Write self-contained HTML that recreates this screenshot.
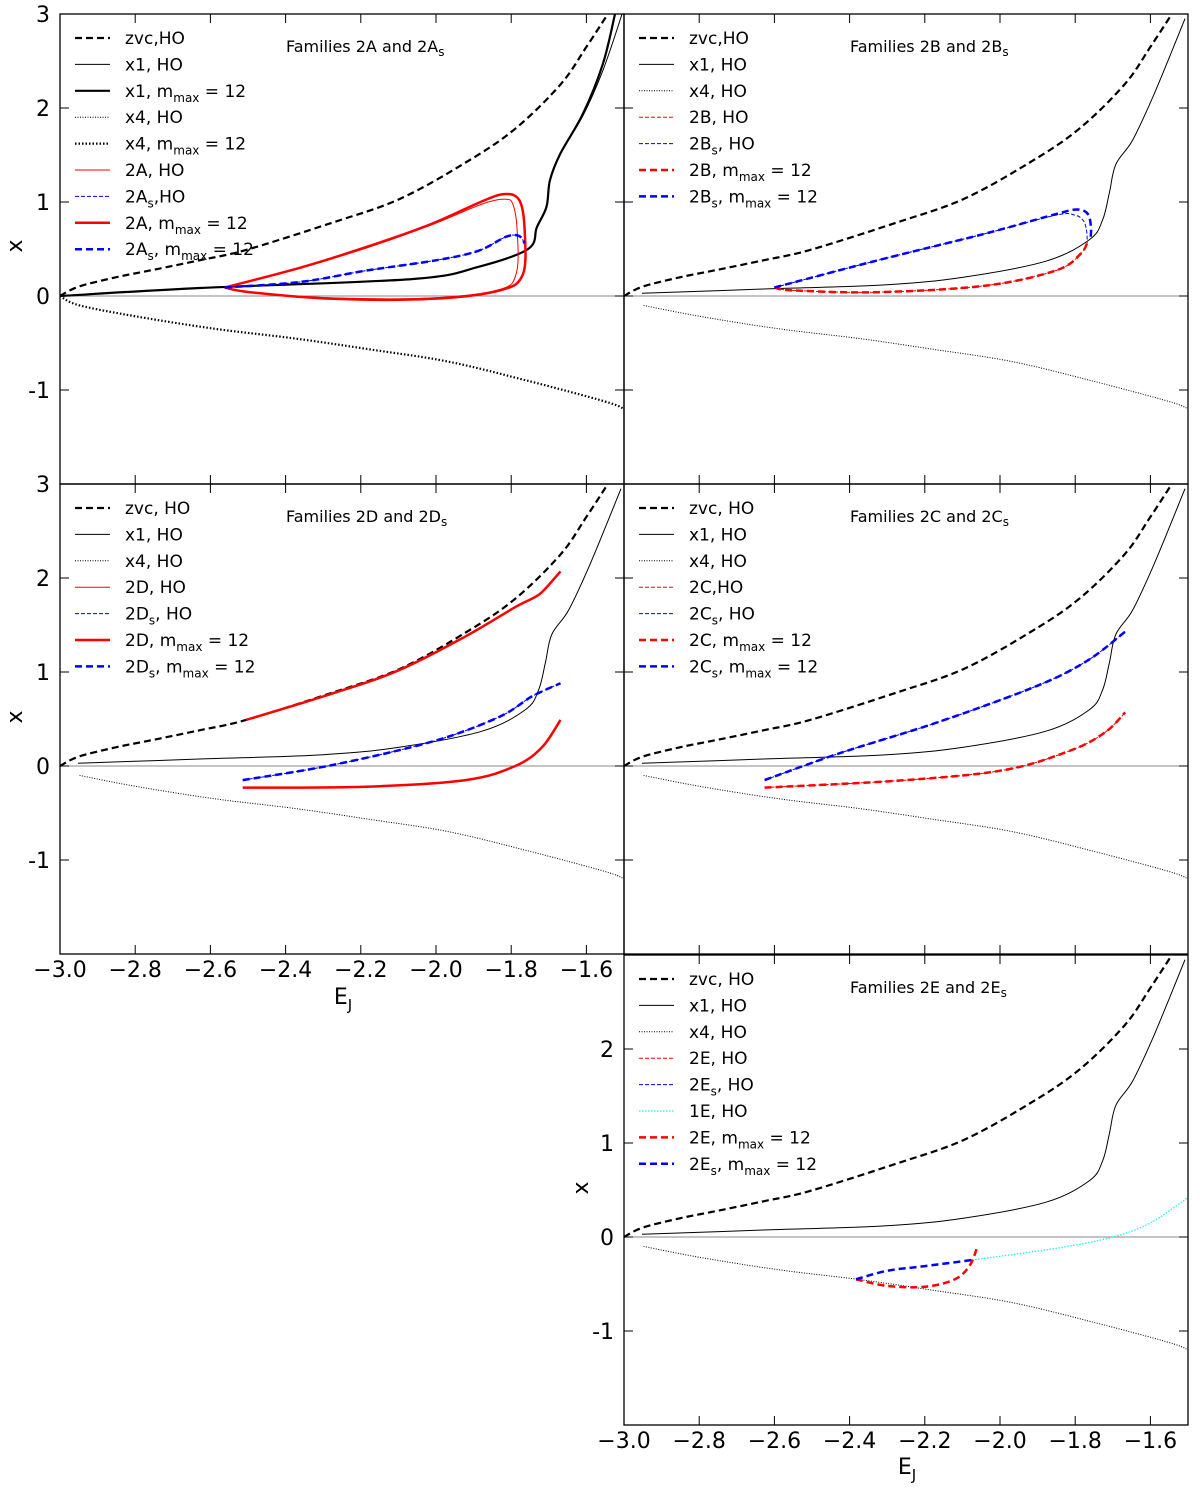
<!DOCTYPE html>
<html><head><meta charset="utf-8"><style>
html,body{margin:0;padding:0;background:#fff}
svg{display:block;font-family:"DejaVu Sans","Liberation Sans",sans-serif}
</style></head><body>
<svg id="fig" width="1200" height="1492" viewBox="0 0 1200 1492" xmlns="http://www.w3.org/2000/svg"></svg>
<script>
// ---- shared data ----
const zvcE=[-3,-2.95,-2.85,-2.75,-2.629,-2.505,-2.276,-2.098,-1.921,-1.789,-1.669,-1.6,-1.535];
const zvcX=[0,0.1,0.2,0.28,0.38,0.49,0.78,1.03,1.42,1.78,2.25,2.65,3.05];
const x4E=[-3,-2.948,-2.793,-2.586,-2.379,-2.172,-1.965,-1.758,-1.552,-1.5];
const x4X=[0,-0.1,-0.22,-0.35,-0.45,-0.57,-0.7,-0.9,-1.12,-1.2];
const x1E=[-2.952,-2.629,-2.3,-2.098,-1.878,-1.762,-1.727,-1.709,-1.692,-1.647,-1.59,-1.508];
const x1X=[0.03,0.074,0.12,0.2,0.37,0.6,0.81,1.1,1.4,1.66,2.15,2.95];
const x1mE=[-3,-2.628,-2.065,-1.888,-1.755,-1.732,-1.706,-1.697,-1.67,-1.609,-1.556,-1.524];
const x1mX=[0,0.085,0.18,0.31,0.5,0.73,0.95,1.23,1.51,1.94,2.47,3.0];
const x1aE=[-3,-2.628,-2.065,-1.888,-1.755,-1.732,-1.706,-1.697,-1.67,-1.609,-1.556,-1.505];
const x1aX=[0,0.085,0.18,0.31,0.5,0.73,0.95,1.23,1.51,1.92,2.4,3.0];
// panel A
const a2AE=[-2.562,-2.362,-2.186,-2.01,-1.876,-1.814,-1.777,-1.764,-1.769,-1.83,-2.01,-2.274,-2.495,-2.562];
const a2AX=[0.09,0.3,0.52,0.77,1.01,1.085,1.01,0.69,0.23,0.06,-0.03,-0.03,0.04,0.09];
const a2AhE=[-2.562,-2.362,-2.186,-2.01,-1.876,-1.815,-1.795,-1.784,-1.786,-1.83,-2.01,-2.274,-2.495,-2.562];
const a2AhX=[0.09,0.3,0.51,0.76,0.98,1.03,0.97,0.69,0.25,0.07,-0.02,-0.02,0.04,0.09];
const a2AsE=[-2.562,-2.36,-2.186,-2.0,-1.888,-1.814,-1.78,-1.764];
const a2AsX=[0.09,0.15,0.27,0.38,0.48,0.63,0.64,0.56];
// panel B
const b2BE=[-2.6,-2.55,-2.33,-2.04,-1.852,-1.785,-1.766];
const b2BX=[0.09,0.06,0.04,0.11,0.27,0.45,0.59];
const b2BsE=[-2.6,-2.33,-2.043,-1.852,-1.795,-1.766,-1.758,-1.76];
const b2BsX=[0.09,0.375,0.66,0.87,0.92,0.87,0.72,0.59];
const b2BsHE=[-2.6,-2.33,-2.043,-1.852,-1.8,-1.778,-1.77,-1.768];
const b2BsHX=[0.09,0.375,0.66,0.86,0.86,0.8,0.7,0.6];
// panel D
const d2DuE=[-2.505,-2.276,-2.098,-1.921,-1.789,-1.745,-1.718,-1.669];
const d2DuX=[0.49,0.77,1.02,1.38,1.69,1.78,1.85,2.07];
const d2DlE=[-2.514,-2.187,-1.921,-1.789,-1.718,-1.669];
const d2DlX=[-0.23,-0.22,-0.15,0.0,0.2,0.49];
const d2DsE=[-2.514,-2.276,-2.01,-1.833,-1.745,-1.669];
const d2DsX=[-0.15,0.01,0.26,0.52,0.74,0.88];
// panel C
const c2CsE=[-2.626,-2.427,-2.162,-1.897,-1.764,-1.667];
const c2CsX=[-0.15,0.135,0.47,0.86,1.13,1.43];
const c2CE=[-2.626,-2.25,-1.985,-1.809,-1.72,-1.667];
const c2CX=[-0.23,-0.15,-0.04,0.17,0.36,0.57];
// panel E
const e1EE=[-2.066,-1.85,-1.7,-1.6,-1.5];
const e1EX=[-0.24,-0.12,0.0,0.15,0.42];
const e2EsE=[-2.383,-2.3,-2.2,-2.066];
const e2EsX=[-0.45,-0.36,-0.31,-0.24];
const e2EE=[-2.383,-2.3,-2.2,-2.12,-2.08,-2.06];
const e2EX=[-0.45,-0.52,-0.53,-0.45,-0.3,-0.1];
const xTicks=[-3.0,-2.8,-2.6,-2.4,-2.2,-2.0,-1.8,-1.6];
const xTickLabels=["\u22123.0","\u22122.8","\u22122.6","\u22122.4","\u22122.2","\u22122.0","\u22121.8","\u22121.6"];
const yTicks=[3,2,1,0,-1];

const NS="http://www.w3.org/2000/svg";
const svg=document.getElementById('fig');
const W=564,H=470,EMIN=-3,EMAX=-1.5,YMAX=3,YMIN=-2;
function el(t,a,p){const e=document.createElementNS(NS,t);for(const k in a)e.setAttribute(k,a[k]);(p||svg).appendChild(e);return e;}
const ST={
 zvc:{stroke:'#000','stroke-width':2.2,'stroke-dasharray':'7,4'},
 x1:{stroke:'#000','stroke-width':1},
 x1m:{stroke:'#000','stroke-width':2.2},
 x4:{stroke:'#000','stroke-width':1,'stroke-dasharray':'1,1.5'},
 x4m:{stroke:'#000','stroke-width':2.2,'stroke-dasharray':'1.5,2'},
 rH:{stroke:'#f00','stroke-width':1},
 rHd:{stroke:'#f00','stroke-width':1,'stroke-dasharray':'4,2'},
 bHd:{stroke:'#00f','stroke-width':1,'stroke-dasharray':'4,2'},
 rM:{stroke:'#f00','stroke-width':2.5},
 rMd:{stroke:'#f00','stroke-width':2.5,'stroke-dasharray':'7,4'},
 bMd:{stroke:'#00f','stroke-width':2.5,'stroke-dasharray':'7,4'},
 cy:{stroke:'#2ee','stroke-width':1.3,'stroke-dasharray':'1.5,1.5'}
};
function smooth(P){
 let d='M'+P[0][0].toFixed(1)+','+P[0][1].toFixed(1);
 for(let i=0;i<P.length-1;i++){
  const p0=P[Math.max(0,i-1)],p1=P[i],p2=P[i+1],p3=P[Math.min(P.length-1,i+2)];
  const c1=[p1[0]+(p2[0]-p0[0])/6,p1[1]+(p2[1]-p0[1])/6];
  const c2=[p2[0]-(p3[0]-p1[0])/6,p2[1]-(p3[1]-p1[1])/6];
  d+=' C'+c1.map(v=>v.toFixed(1)).join(',')+' '+c2.map(v=>v.toFixed(1)).join(',')+' '+p2.map(v=>v.toFixed(1)).join(',');
 }
 return d;
}
function addLabel(t,segs){
 let sub=false;
 segs.forEach(seg=>{
  const isSub=!!seg[1];
  const a={};
  if(isSub&&!sub)a.dy=5;
  if(!isSub&&sub)a.dy=-5;
  if(isSub)a['font-size']=12;
  const s=el('tspan',a,t);s.textContent=seg[0];
  sub=isSub;
 });
}
function panel(ox,oy,name,title,titleSub,legend,curves){
 const g=el('g',{},svg);
 
 
 const sx=v=>ox+(v-EMIN)/(EMAX-EMIN)*W;
 const sy=v=>oy+(YMAX-v)/(YMAX-YMIN)*H;
 const cp=el('clipPath',{id:'cp'+name},g);
 el('rect',{x:ox,y:oy,width:W,height:H},cp);
 const z=el('line',{x1:ox,x2:ox+W,y1:sy(0),y2:sy(0),stroke:'#888','stroke-width':1},g);
 
 
 const cg=el('g',{'clip-path':'url(#cp'+name+')'},g);
 curves.forEach(c=>{
  const P=c[1].map((e,i)=>[sx(e),sy(c[2][i])]);
  const p=el('path',Object.assign({d:smooth(P),fill:'none','stroke-linejoin':'round'},ST[c[3]]),cg);
  
  
 });
 xTicks.forEach(t=>{const x=sx(t);el('line',{x1:x,x2:x,y1:oy+H,y2:oy+H-9,stroke:'#000','stroke-width':1},g);el('line',{x1:x,x2:x,y1:oy,y2:oy+9,stroke:'#000','stroke-width':1},g);});
 yTicks.forEach(t=>{const y=sy(t);el('line',{x1:ox,x2:ox+9,y1:y,y2:y,stroke:'#000','stroke-width':1},g);el('line',{x1:ox+W,x2:ox+W-9,y1:y,y2:y,stroke:'#000','stroke-width':1},g);});
 const fr=el('rect',{x:ox,y:oy,width:W,height:H,fill:'none',stroke:'#000','stroke-width':1.3},g);
 
 
 const tt=el('text',{x:ox+226,y:oy+38,'font-size':16},g);
 tt.textContent=title;
 const ts=el('tspan',{'font-size':12,dy:4},tt);ts.textContent=titleSub;
 
 
 legend.forEach((L,i)=>{
  const y=oy+24+i*26.4;
  const lg=el('g',{},g);
  
  
  el('line',Object.assign({x1:ox+15,x2:ox+50,y1:y,y2:y},ST[L[0]]),lg);
  const t=el('text',{x:ox+65,y:y+6,'font-size':17},lg);
  addLabel(t,L[1]);
 });
}
const M=(a)=>[[a+', m'],['max',1],[' = 12']];
const MS=(a)=>[[a],['s',1],[', m'],['max',1],[' = 12']];
panel(60,14,'panel-2a','Families 2A and 2A','s',
 [['zvc',[['zvc,HO']]],['x1',[['x1, HO']]],['x1m',M('x1')],['x4',[['x4, HO']]],['x4m',M('x4')],['rH',[['2A, HO']]],['bHd',[['2A'],['s',1],[',HO']]],['rM',M('2A')],['bMd',MS('2A')]],
 [['zvc',zvcE,zvcX,'zvc'],['x4',x4E,x4X,'x4m'],['x1',x1aE,x1aX,'x1'],['x1m',x1mE,x1mX,'x1m'],['2a-ho',a2AhE,a2AhX,'rH'],['2a-mmax',a2AE,a2AX,'rM'],['2as-ho',a2AsE,a2AsX,'bHd'],['2as-mmax',a2AsE,a2AsX,'bMd']]);
panel(624,14,'panel-2b','Families 2B and 2B','s',
 [['zvc',[['zvc,HO']]],['x1',[['x1, HO']]],['x4',[['x4, HO']]],['rHd',[['2B, HO']]],['bHd',[['2B'],['s',1],[', HO']]],['rMd',M('2B')],['bMd',MS('2B')]],
 [['zvc',zvcE,zvcX,'zvc'],['x4',x4E.slice(1),x4X.slice(1),'x4'],['x1',x1E,x1X,'x1'],['2b-ho',b2BE,b2BX,'rHd'],['2bs-ho',b2BsHE,b2BsHX,'bHd'],['2b-mmax',b2BE,b2BX,'rMd'],['2bs-mmax',b2BsE,b2BsX,'bMd']]);
panel(60,484,'panel-2d','Families 2D and 2D','s',
 [['zvc',[['zvc, HO']]],['x1',[['x1, HO']]],['x4',[['x4, HO']]],['rH',[['2D, HO']]],['bHd',[['2D'],['s',1],[', HO']]],['rM',M('2D')],['bMd',MS('2D')]],
 [['zvc',zvcE,zvcX,'zvc'],['x4',x4E.slice(1),x4X.slice(1),'x4'],['x1',x1E,x1X,'x1'],['2d-upper',d2DuE,d2DuX,'rM'],['2d-lower',d2DlE,d2DlX,'rM'],['2ds-ho',d2DsE,d2DsX,'bHd'],['2ds-mmax',d2DsE,d2DsX,'bMd']]);
panel(624,484,'panel-2c','Families 2C and 2C','s',
 [['zvc',[['zvc, HO']]],['x1',[['x1, HO']]],['x4',[['x4, HO']]],['rHd',[['2C,HO']]],['bHd',[['2C'],['s',1],[', HO']]],['rMd',M('2C')],['bMd',MS('2C')]],
 [['zvc',zvcE,zvcX,'zvc'],['x4',x4E.slice(1),x4X.slice(1),'x4'],['x1',x1E,x1X,'x1'],['2c-ho',c2CE,c2CX,'rHd'],['2cs-ho',c2CsE,c2CsX,'bHd'],['2c-mmax',c2CE,c2CX,'rMd'],['2cs-mmax',c2CsE,c2CsX,'bMd']]);
panel(624,955,'panel-2e','Families 2E and 2E','s',
 [['zvc',[['zvc, HO']]],['x1',[['x1, HO']]],['x4',[['x4, HO']]],['rHd',[['2E, HO']]],['bHd',[['2E'],['s',1],[', HO']]],['cy',[['1E, HO']]],['rMd',M('2E')],['bMd',MS('2E')]],
 [['zvc',zvcE,zvcX,'zvc'],['x4',x4E.slice(1),x4X.slice(1),'x4'],['x1',x1E,x1X,'x1'],['1e-ho',e1EE,e1EX,'cy'],['2e-mmax',e2EE,e2EX,'rMd'],['2es-mmax',e2EsE,e2EsX,'bMd']]);

function yLabels(ox,oy,list){list.forEach(t=>{const y=oy+(YMAX-t)/(YMAX-YMIN)*H;const tx=el('text',{x:ox-10,y:y+8,'font-size':22,'text-anchor':'end'});tx.textContent=t<0?'-'+(-t):String(t);
 
 });}
yLabels(60,14,[3,2,1,0,-1]);yLabels(60,484,[3,2,1,0,-1]);yLabels(624,955,[2,1,0,-1]);
function xLabels(ox,y){xTicks.forEach((t,i)=>{const x=ox+(t-EMIN)/(EMAX-EMIN)*W;const tx=el('text',{x:x,y:y,'font-size':22,'text-anchor':'middle'});tx.textContent=xTickLabels[i];
 
 });}
xLabels(60,977);xLabels(624,1448);
function yTitle(x,y){const t=el('text',{x:x,y:y,'font-size':22,'text-anchor':'middle',transform:'rotate(-90 '+x+' '+y+')'});t.textContent='x';
 
 }
yTitle(22,246);yTitle(22,717);yTitle(588,1188);
function xTitle(x,y){const t=el('text',{x:x,y:y,'font-size':22,'text-anchor':'middle'});t.textContent='E';const s=el('tspan',{'font-size':15,dy:6},t);s.textContent='J';
 
 }
xTitle(343,1004);xTitle(907,1474);
</script>
</body></html>
